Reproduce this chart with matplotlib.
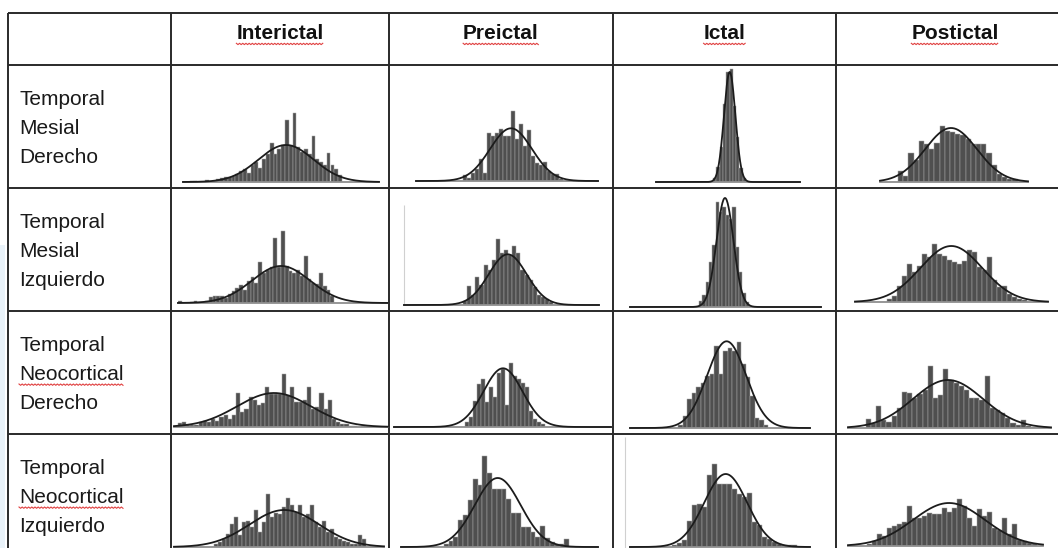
import numpy as np
import matplotlib.pyplot as plt

plt.rcParams['font.family'] = ['Liberation Sans', 'DejaVu Sans']

fases = ['Interictal', 'Preictal', 'Ictal', 'Postictal']
regiones = [['Temporal', 'Mesial', 'Derecho'],
            ['Temporal', 'Mesial', 'Izquierdo'],
            ['Temporal', 'Neocortical', 'Derecho'],
            ['Temporal', 'Neocortical', 'Izquierdo']]
# words with the red spell-check squiggle in the original document
subrayadas = ['Interictal', 'Preictal', 'Ictal', 'Postictal', 'Neocortical']

# bar heights of each histogram
h_tmd_inter = [1, 1, 0, 0, 2, 0, 1, 3, 4, 5, 5, 6, 8, 11, 13, 9, 17, 20, 14, 23, 28, 39, 28, 33,
               37, 62, 37, 69, 35, 30, 33, 28, 46, 23, 20, 17, 29, 17, 13, 7]
h_tmd_pre = [6, 3, 8, 12, 22, 8, 48, 45, 48, 52, 45, 45, 70, 42, 57, 35, 51, 25, 18, 16, 19, 10, 7, 7, 2]
h_tmd_ict = [4, 15, 35, 78, 110, 113, 76, 45, 14, 4]
h_tmd_post = [11, 6, 29, 22, 41, 38, 33, 39, 56, 51, 50, 48, 47, 43, 38, 38, 38, 29, 17, 8, 5, 3, 3]

h_tmi_inter = [2, 0, 0, 1, 2, 1, 1, 2, 6, 7, 7, 7, 5, 9, 12, 15, 18, 13, 22, 26, 20, 41, 30, 33, 36,
               65, 36, 72, 37, 32, 30, 33, 27, 47, 24, 20, 19, 30, 17, 13, 7]
h_tmi_pre = [4, 19, 10, 28, 20, 40, 35, 45, 66, 52, 55, 50, 59, 52, 35, 30, 25, 18, 10, 8, 6, 3]
h_tmi_ict = [6, 12, 25, 45, 62, 105, 95, 100, 92, 88, 100, 60, 35, 14, 5]
h_tmi_post = [3, 6, 16, 26, 38, 30, 36, 48, 45, 58, 48, 46, 42, 40, 38, 41, 52, 50, 35, 32, 45, 22,
              15, 16, 8, 5, 3, 2]

h_tncd_inter = [4, 5, 2, 2, 2, 5, 6, 5, 8, 6, 10, 12, 8, 12, 34, 15, 18, 30, 27, 22, 24, 40, 33, 33,
                33, 53, 32, 40, 25, 25, 27, 40, 18, 20, 34, 18, 27, 8, 5, 3, 3, 1, 1, 0, 1]
h_tncd_pre = [5, 10, 26, 43, 48, 25, 40, 30, 54, 58, 22, 64, 51, 48, 44, 40, 16, 8, 5, 3]
h_tncd_ict = [3, 12, 29, 35, 41, 45, 52, 54, 82, 54, 77, 80, 77, 86, 64, 51, 32, 10, 8, 3]
h_tncd_post = [9, 5, 22, 8, 6, 12, 20, 36, 35, 30, 34, 38, 62, 30, 33, 59, 48, 45, 42, 38, 30, 30,
               28, 52, 20, 18, 15, 10, 5, 3, 8, 2, 1, 1, 1]

h_tnci_inter = [3, 5, 8, 13, 23, 30, 12, 25, 26, 20, 37, 15, 25, 53, 30, 34, 33, 40, 49, 42, 35, 42,
                30, 33, 42, 25, 20, 26, 15, 18, 10, 8, 6, 5, 3, 3, 12, 8]
h_tnci_pre = [3, 6, 10, 27, 32, 47, 68, 62, 91, 74, 58, 58, 58, 48, 34, 34, 20, 20, 15, 10, 21, 9,
              5, 3, 3, 8]
h_tnci_ict = [2, 4, 7, 26, 42, 43, 40, 72, 83, 63, 63, 63, 58, 53, 50, 54, 25, 22, 10, 8, 5, 3, 2, 2, 2]
h_tnci_post = [2, 5, 12, 10, 18, 20, 22, 24, 40, 28, 28, 30, 33, 32, 32, 38, 34, 38, 47, 40, 28, 20,
               37, 30, 34, 18, 16, 28, 12, 22, 6, 5, 3, 2]

alturas = [[h_tmd_inter, h_tmd_pre, h_tmd_ict, h_tmd_post],
           [h_tmi_inter, h_tmi_pre, h_tmi_ict, h_tmi_post],
           [h_tncd_inter, h_tncd_pre, h_tncd_ict, h_tncd_post],
           [h_tnci_inter, h_tnci_pre, h_tnci_ict, h_tnci_post]]

# first bin edge and bin width of every histogram
bin_lo = [[6.9, 47, 57, 18], [0.4, 59, 69, 32.3], [3.7, 70.6, 48.3, 17.7], [40.3, 42.7, 42.3, 18.7]]
bin_w = [[3.8, 4.0, 3.3, 5.2], [3.8, 4.1, 3.33, 5.0], [4.17, 4.0, 4.5, 5.17], [4.0, 4.83, 5.0, 5.0]]

# fitted normal curve: mean, sd, peak height
fit_mu = [[103, 95, 73.7, 71], [103, 103.7, 95, 96.3], [100, 109, 96.6, 100], [110.3, 96.7, 95.7, 101]]
fit_sd = [[27.6, 21, 5.7, 26], [29, 19, 8.5, 31], [37, 19.5, 19.5, 35], [35, 23, 21.5, 36]]
fit_pk = [[37, 52.7, 110, 54], [37, 50.7, 109, 56], [34, 58.7, 86.7, 48], [37, 69, 73, 43]]

# ---------------- layout (pixels) ----------------
W, H = 1058, 548
fig = plt.figure(figsize=(W / 100, H / 100), dpi=100)
bg = fig.add_axes([0, 0, 1, 1])
bg.set_xlim(0, W)
bg.set_ylim(H, 0)
bg.axis('off')

col_x = [8, 171, 389, 613, 836, 1074]
row_y = [12.5, 65, 188, 311, 434]

bg.add_patch(plt.Rectangle((0, 245), 5, 303, color='#e9f2f9', lw=0))
bg.hlines(row_y, 8, W, color='#2a2a2a', lw=1.4)
bg.vlines(col_x[:-1], 12.5, H, color='#2a2a2a', lw=1.4)

textos = []
for j, f in enumerate(fases):
    cx = (col_x[j + 1] + col_x[j + 2]) / 2
    t = bg.text(cx, 39.3, f, ha='center', va='baseline', fontsize=15, fontweight='bold', color='#111111')
    textos.append(t)

for i, lineas in enumerate(regiones):
    for k, palabra in enumerate(lineas):
        t = bg.text(19, 105 + 123 * i + 29 * k, palabra, ha='left', va='baseline', fontsize=15,
                    color='#1a1a1a')
        textos.append(t)

# red spell-check squiggles
fig.canvas.draw()
ren = fig.canvas.get_renderer()
inv = bg.transData.inverted()
for t in textos:
    if t.get_text() in subrayadas:
        bb = t.get_window_extent(ren)
        (x0, _), (x1, _) = inv.transform([[bb.x0, bb.y0], [bb.x1, bb.y1]])
        yb = t.get_position()[1] + 4
        xs = np.arange(x0, x1, 1.6)
        ys = yb + 1.3 * (np.arange(len(xs)) % 2)
        bg.plot(xs, ys, color='#e04040', lw=0.8)

# histogram boxes: left, right, baseline y
cajas = [[(183, 379, 182), (416, 598, 181), (656, 800, 182), (880, 1028, 182)],
         [(178, 388, 303), (404, 599, 305), (630, 821, 307), (855, 1048, 302)],
         [(174, 388, 427), (394, 611, 427), (630, 810, 428), (848, 1051, 428)],
         [(174, 384, 547), (401, 598, 547), (630, 810, 547), (848, 1043, 546)]]
alto = 120

for i in range(4):
    for j in range(4):
        L, R, yb = cajas[i][j]
        ax = fig.add_axes([L / W, (H - yb) / H, (R - L) / W, alto / H])
        ax.set_xlim(0, R - L)
        ax.set_ylim(0, alto)
        ax.axis('off')
        hs = alturas[i][j]
        xs = bin_lo[i][j] + bin_w[i][j] * np.arange(len(hs))
        ax.bar(xs, hs, width=bin_w[i][j], align='edge', color='#4f4f4f', edgecolor='#a8a8a8',
               linewidth=0.35)
        ax.axhline(0, color='#8f8f8f', lw=1.3, clip_on=False)
        gx = np.linspace(0, R - L, 400)
        gy = fit_pk[i][j] * np.exp(-0.5 * ((gx - fit_mu[i][j]) / fit_sd[i][j]) ** 2)
        ax.plot(gx, gy, color='#1c1c1c', lw=1.3, clip_on=False)

# faint axis lines left inside two of the pasted images
bg.vlines([404], 205, 305, color='#d0d0d0', lw=0.8)
bg.vlines([625], 437, 548, color='#d0d0d0', lw=0.8)

fig.savefig('out.png', dpi=100)
